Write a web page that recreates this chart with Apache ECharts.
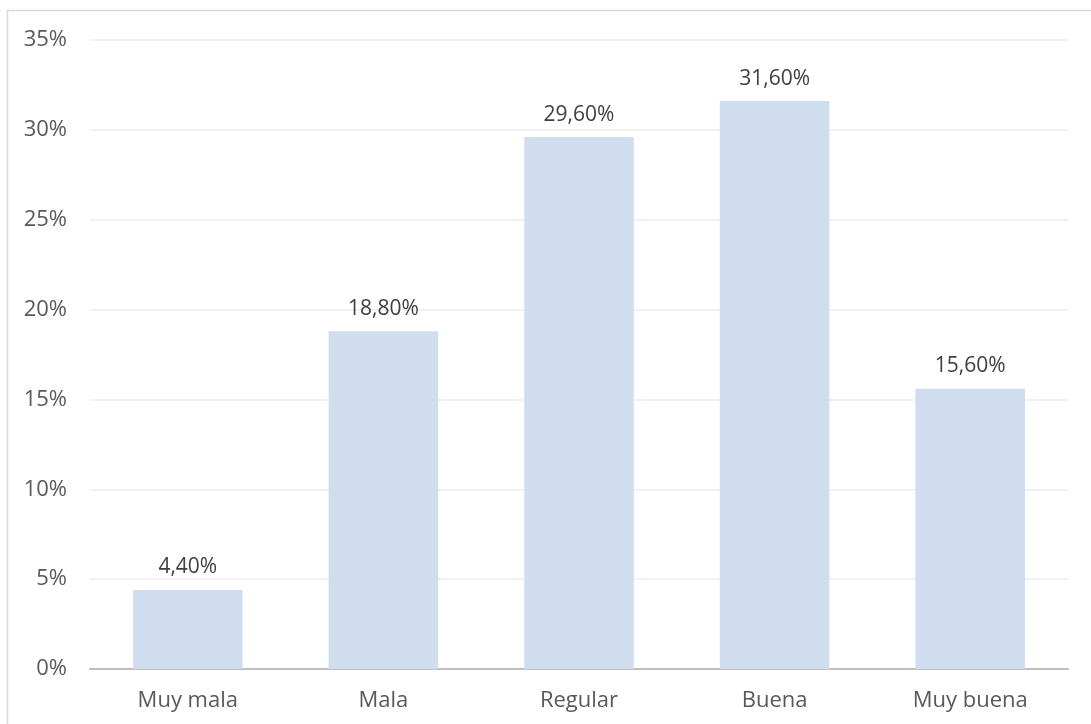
<!DOCTYPE html>
<html>
<head>
<meta charset="utf-8">
<script src="https://cdn.jsdelivr.net/npm/echarts@6/dist/echarts.min.js"></script>
<style>
  html, body { margin: 0; padding: 0; background: #fff; }
  #chart { width: 1091px; height: 724px; }
</style>
</head>
<body>
<div id="chart"></div>
<script>
const categories = ['Muy mala', 'Mala', 'Regular', 'Buena', 'Muy buena'];
const values = [4.4, 18.8, 29.6, 31.6, 15.6];

const chart = echarts.init(document.getElementById('chart'));

const option = {
    animation: false,
    textStyle: { fontFamily: 'Open Sans' },
    graphic: [{
        type: 'rect',
        shape: { x: 7.5, y: 10.5, width: 1200, height: 900 },
        style: { fill: 'none', stroke: '#d9d9d9', lineWidth: 1.5 }
    }],
    grid: { left: 90, right: 23, top: 40, bottom: 55 },
    xAxis: {
        type: 'category',
        data: categories,
        axisLine: { lineStyle: { color: '#bfbfbf', width: 2 } },
        axisTick: { show: false },
        axisLabel: { color: '#595959', fontSize: 22, margin: 21 }
    },
    yAxis: {
        type: 'value',
        min: 0,
        max: 35,
        interval: 5,
        axisLine: { show: false },
        axisTick: { show: false },
        splitLine: { lineStyle: { color: '#ededed', width: 1.5 } },
        axisLabel: {
            color: '#595959',
            fontSize: 22,
            margin: 23,
            formatter: v => v + '%'
        }
    },
    series: [{
        type: 'bar',
        data: values,
        barCategoryGap: '44%',
        itemStyle: { color: '#cfddee' },
        label: {
            show: true,
            position: 'top',
            distance: 12,
            color: '#404040',
            fontSize: 21,
            formatter: p => p.value.toFixed(2).replace('.', ',') + '%'
        }
    }]
};

chart.setOption(option);
</script>
</body>
</html>
